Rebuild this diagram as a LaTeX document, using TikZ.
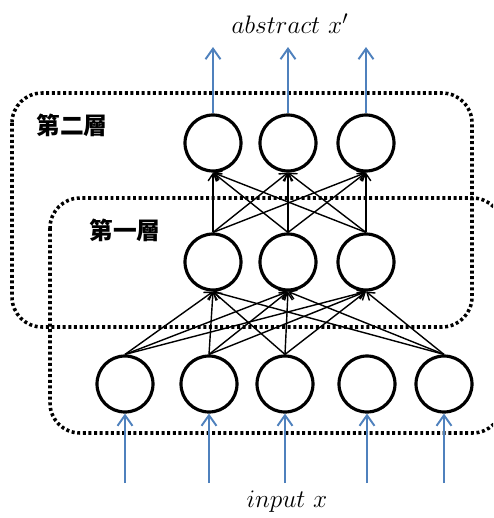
\documentclass[tikz,border=0pt]{standalone}
\usepackage{fontspec}
\usepackage{amsmath}
\usetikzlibrary{arrows.meta}
\newfontfamily\cjk{Noto Sans CJK TC}
\definecolor{arrowblue}{RGB}{79,129,189}
\tikzset{
	unit/.style={draw, circle, line width=1.8pt, minimum size=1.12cm, inner sep=0pt},
	link/.style={line width=0.8pt, -{Straight Barb[length=4pt,width=5.5pt]}},
	feed/.style={draw=arrowblue, line width=1.1pt, -{Straight Barb[length=6pt,width=8.5pt]}},
	layerbox/.style={line width=2pt, dash pattern=on 1.7pt off 1.5pt, rounded corners=0.6cm}
}

\begin{document}
\begin{tikzpicture}
				\useasboundingbox (0, 0) rectangle (9.86, -10.36);
				\begin{scope}
				\clip (0, 0) rectangle (9.86, -10.36);
				\draw[layerbox] (0.24, -1.86) rectangle (9.44, -6.54);
				\draw[layerbox] (1.0, -3.96) rectangle (10.05, -8.66);
				\end{scope}
				\node[font=\cjk\bfseries\fontsize{13.5}{15}\selectfont] (L2)at(1.44, -2.5) {第二層};
				\node[font=\cjk\bfseries\fontsize{13.5}{15}\selectfont] (L1)at(2.5, -4.6) {第一層};
				\node[unit] (X1)at(2.50, -7.68) {};
				\node[unit] (X2)at(4.18, -7.68) {};
				\node[unit] (X3)at(5.70, -7.68) {};
				\node[unit] (X4)at(7.34, -7.68) {};
				\node[unit] (X5)at(8.88, -7.68) {};
				\node[unit] (A1)at(4.26, -5.24) {};
				\node[unit] (A2)at(5.76, -5.24) {};
				\node[unit] (A3)at(7.32, -5.24) {};
				\node[unit] (B1)at(4.26, -2.86) {};
				\node[unit] (B2)at(5.76, -2.86) {};
				\node[unit] (B3)at(7.32, -2.86) {};
				% input side
				\node[font=\fontsize{15}{17}\selectfont] (In)at(5.74, -10.04) {$input\ x$};
				\coordinate (S1) at (2.50, -9.66);
				\coordinate (S2) at (4.18, -9.66);
				\coordinate (S3) at (5.70, -9.66);
				\coordinate (S4) at (7.34, -9.66);
				\coordinate (S5) at (8.88, -9.66);
				\draw[feed] (S1) -- (X1.south);
				\draw[feed] (S2) -- (X2.south);
				\draw[feed] (S3) -- (X3.south);
				\draw[feed] (S4) -- (X4.south);
				\draw[feed] (S5) -- (X5.south);
				% first layer
				\draw[link] (X1.north) -- (A1.south);
				\draw[link] (X1.north) -- (A2.south);
				\draw[link] (X1.north) -- (A3.south);
				\draw[link] (X2.north) -- (A1.south);
				\draw[link] (X2.north) -- (A2.south);
				\draw[link] (X2.north) -- (A3.south);
				\draw[link] (X3.north) -- (A1.south);
				\draw[link] (X3.north) -- (A2.south);
				\draw[link] (X3.north) -- (A3.south);
				\draw[link] (X5.north) -- (A1.south);
				\draw[link] (X5.north) -- (A2.south);
				\draw[link] (X5.north) -- (A3.south);
				% second layer
				\draw[link] (A1.north) -- (B1.south);
				\draw[link] (A1.north) -- (B2.south);
				\draw[link] (A1.north) -- (B3.south);
				\draw[link] (A2.north) -- (B1.south);
				\draw[link] (A2.north) -- (B2.south);
				\draw[link] (A2.north) -- (B3.south);
				\draw[link] (A3.north) -- (B1.south);
				\draw[link] (A3.north) -- (B2.south);
				\draw[link] (A3.north) -- (B3.south);
				% output side
				\node[font=\fontsize{15}{17}\selectfont] (Out)at(5.8, -0.48) {$abstract\ x'$};
				\coordinate (T1) at (4.26, -0.94);
				\coordinate (T2) at (5.76, -0.94);
				\coordinate (T3) at (7.32, -0.94);
				\draw[feed] (B1.north) -- (T1);
				\draw[feed] (B2.north) -- (T2);
				\draw[feed] (B3.north) -- (T3);
			\end{tikzpicture}
\end{document}
